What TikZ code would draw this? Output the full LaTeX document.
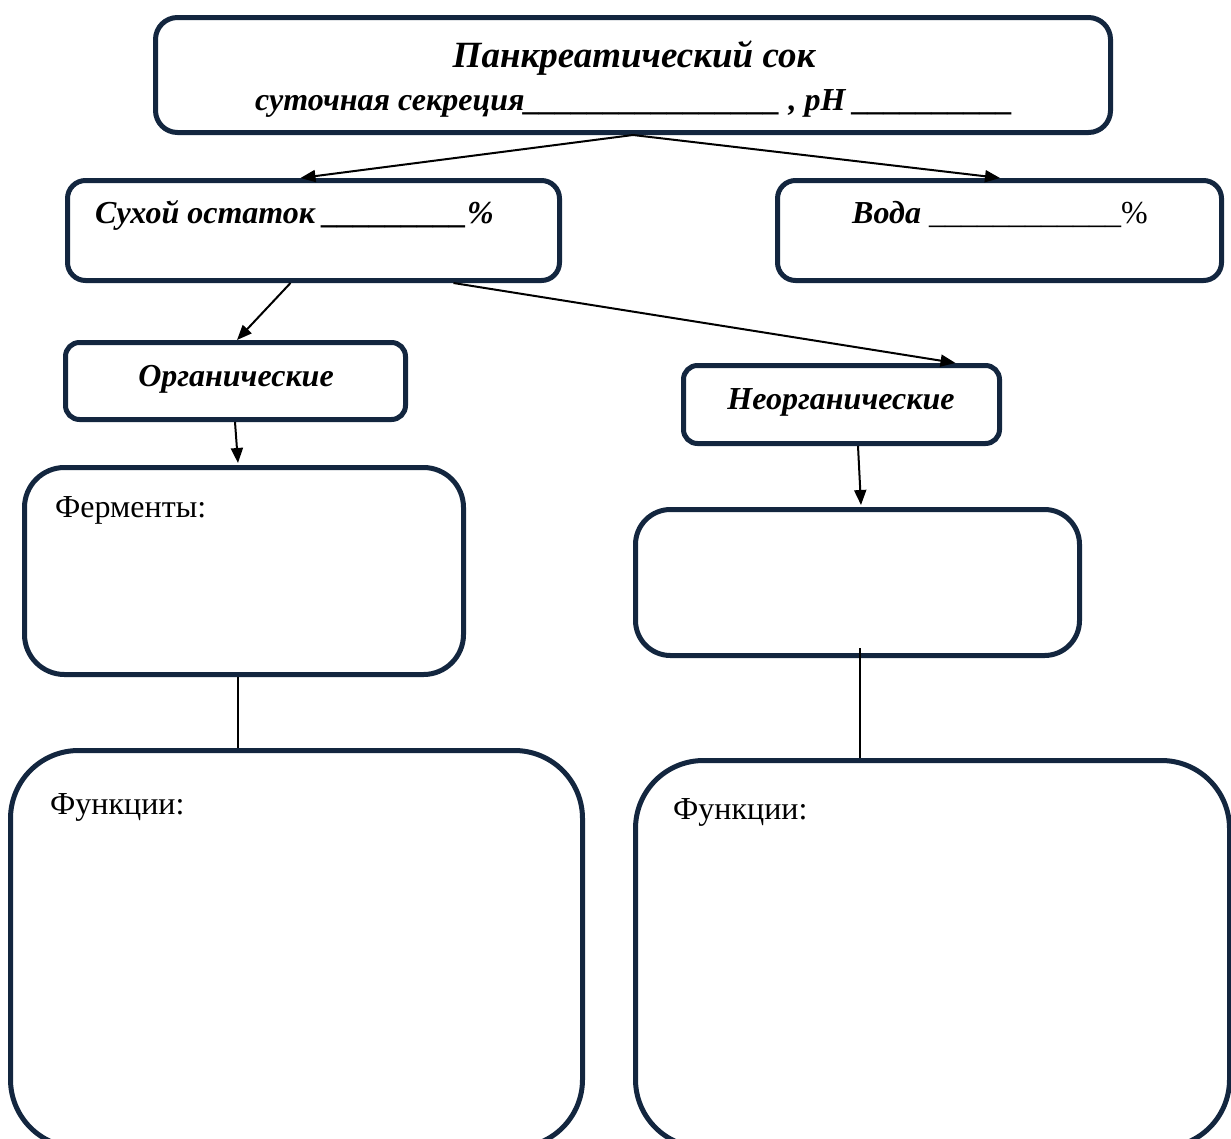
\documentclass[tikz,border=0pt]{standalone}
\usepackage{fontspec}
\setmainfont{Liberation Serif}
\usetikzlibrary{arrows.meta,calc}
\definecolor{boxnavy}{HTML}{13263F}

\begin{document}
\begin{tikzpicture}[x=1pt, y=-1pt,
  box/.style={draw=boxnavy, line width=5pt, rounded corners=#1, inner sep=0pt},
  box/.default=20pt,
  head/.style={font=\bfseries\itshape\fontsize{32}{38}\selectfont, inner sep=0pt},
  plain/.style={font=\fontsize{32}{38}\selectfont, anchor=base west, inner sep=0pt},
  arrow/.style={-{Triangle[length=15pt, width=12pt]}, line width=2pt},
  link/.style={line width=1.5pt}
]
\clip (0,0) rectangle (1231,1138);

% boxes
\node[box=22pt, minimum width=955pt, minimum height=115pt] (juice) at (633,75) {};
\node[box=18pt, minimum width=492pt, minimum height=100pt] (dry) at (313.5,230.5) {};
\node[box=18pt, minimum width=444pt, minimum height=100pt] (water) at (999.5,230.5) {};
\node[box=14pt, minimum width=340pt, minimum height=77pt] (organic) at (235.5,381) {};
\node[box=14pt, minimum width=316pt, minimum height=78pt] (inorganic) at (841.5,404.5) {};
\node[box=40pt, minimum width=439pt, minimum height=207pt] (enzymes) at (244,571) {};
\node[box=35pt, minimum width=444pt, minimum height=146pt] (salts) at (857.5,582.5) {};
\node[box=68pt, minimum width=572pt, minimum height=397pt] (funcorg) at (296.5,949) {};
\node[box=68pt, minimum width=594pt, minimum height=387pt] (funcinorg) at (932.5,954) {};

% texts
\node[head, font=\bfseries\itshape\fontsize{37}{42}\selectfont, anchor=base] (title) at (634,67) {Панкреатический сок};
\node[head, anchor=base west] (daily) at (255,110)
  {суточная секреция\_\_\_\_\_\_\_\_\_\_\_\_\_\_\_\_ , pH \_\_\_\_\_\_\_\_\_\_};
\node[head, anchor=base west] (drytext) at (95,223) {Сухой остаток \_\_\_\_\_\_\_\_\_\%};
\node[head, anchor=base west] (watertext) at (852,223) {Вода \textup{\mdseries\_\_\_\_\_\_\_\_\_\_\_\_\%}};
\node[head, anchor=base] (orgtext) at (236,386) {Органические};
\node[head, anchor=base] (inorgtext) at (841,409) {Неорганические};
\node[plain] (enztext) at (55,517) {Ферменты:};
\node[plain] (funcorgtext) at (50,814) {Функции:};
\node[plain] (funcinorgtext) at (673,819) {Функции:};

% connectors
\draw[arrow] (juice.south) -- ([xshift=-13pt]dry.north);
\draw[arrow] (juice.south) -- ([xshift=0.5pt]water.north);
\draw[arrow] ([xshift=-23pt]dry.south) -- ([xshift=1.5pt]organic.north);
\draw[arrow] ([xshift=140pt]dry.south) -- ([xshift=114pt]inorganic.north);
\draw[arrow] ([xshift=-0.5pt]organic.south) -- ([xshift=-6pt, yshift=2pt]enzymes.north);
\draw[arrow] ([xshift=16.5pt]inorganic.south) -- ([xshift=3.5pt, yshift=2pt]salts.north);
\draw[link] ([xshift=-6pt]enzymes.south) -- ([xshift=-58.5pt]funcorg.north);
\draw[link] ([xshift=2.5pt, yshift=10pt]salts.south) -- ([xshift=-72.5pt]funcinorg.north);
\end{tikzpicture}
\end{document}
